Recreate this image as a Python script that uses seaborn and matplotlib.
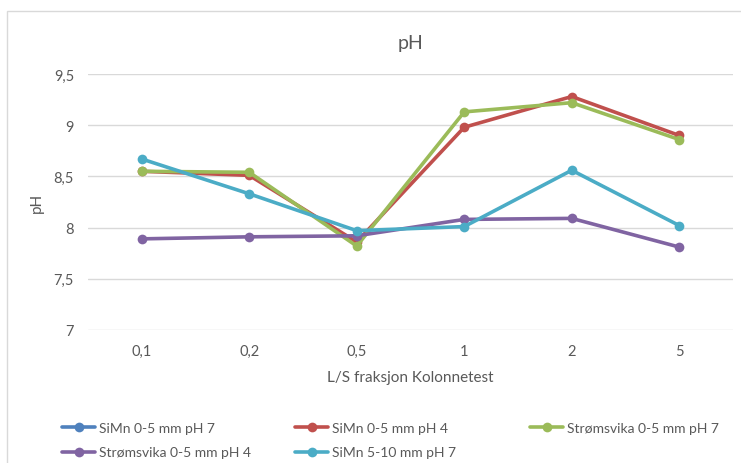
import numpy as np
import pandas as pd
import matplotlib
matplotlib.use("Agg")
import matplotlib.pyplot as plt
from matplotlib.lines import Line2D
from matplotlib.patches import Rectangle
import seaborn as sns

categories = ["0,1", "0,2", "0,5", "1", "2", "5"]
series_names = ["SiMn 0-5 mm pH 7", "SiMn 0-5 mm pH 4", "Strømsvika 0-5 mm pH 7",
                "Strømsvika 0-5 mm pH 4", "SiMn 5-10 mm pH 7"]
simn_05_ph7 = [np.nan] * 6
simn_05_ph4 = [8.55, 8.51, 7.86, 8.98, 9.28, 8.90]
strom_05_ph7 = [8.55, 8.54, 7.82, 9.13, 9.22, 8.86]
strom_05_ph4 = [7.89, 7.91, 7.92, 8.08, 8.09, 7.81]
simn_510_ph7 = [8.67, 8.33, 7.97, 8.01, 8.56, 8.02]
colors = ["#4F81BD", "#C0504D", "#9BBB59", "#8064A2", "#4BACC6"]

all_values = [simn_05_ph7, simn_05_ph4, strom_05_ph7, strom_05_ph4, simn_510_ph7]

sns.set_theme(style="white")
plt.rcParams["font.family"] = ["Lato", "DejaVu Sans"]
txt = "#595959"

fig = plt.figure(figsize=(7.41, 4.64), dpi=100)
ax = fig.add_axes([88 / 741, 1 - 331 / 464, (733 - 88) / 741, (331 - 75) / 464])

# frame around chart area
fig.patches.append(Rectangle((7 / 741, -0.1), 1.2, 1 - 12 / 464 + 0.1,
                             transform=fig.transFigure, fill=False,
                             edgecolor="#D9D9D9", linewidth=1.0))

for name, vals, col in zip(series_names, all_values, colors):
    df = pd.DataFrame({"LS": categories, "pH": vals}).dropna()
    if df.empty:
        continue
    sns.lineplot(data=df, x="LS", y="pH", ax=ax, color=col, linewidth=2.6,
                 marker="o", markersize=7, markeredgewidth=0, sort=False)

ax.set_xlim(-0.5, 5.5)
ax.set_ylim(7, 9.5)
ax.set_yticks([7, 7.5, 8, 8.5, 9, 9.5])
ax.set_yticklabels(["7", "7,5", "8", "8,5", "9", "9,5"])
ax.set_xticks(range(len(categories)))
ax.set_xticklabels(categories)
ax.yaxis.grid(True, color="#D9D9D9", linewidth=1.0)
ax.set_axisbelow(True)
for s in ax.spines.values():
    s.set_visible(False)
ax.tick_params(axis="both", length=0, colors=txt, labelsize=10.5)
ax.tick_params(axis="y", pad=10)
ax.tick_params(axis="x", pad=10)
ax.set_xlabel("L/S fraksjon Kolonnetest", color=txt, fontsize=11, labelpad=9)
ax.set_ylabel("pH", color=txt, fontsize=11, labelpad=7)
fig.text(0.5 * (88 + 733) / 741, 1 - 44 / 464, "pH", ha="center", va="center",
         color=txt, fontsize=14)

handles = [Line2D([], [], color=c, linewidth=2.6, marker="o", markersize=7,
                  markeredgewidth=0) for c in colors]
columns = [[0, 3], [1, 4], [2]]
col_x = [62, 295, 530]
for idxs, cx in zip(columns, col_x):
    leg = fig.legend([handles[i] for i in idxs], [series_names[i] for i in idxs],
                     loc="upper left", bbox_to_anchor=(cx / 741, 1 - 423 / 464),
                     frameon=False, fontsize=10, handlelength=2.4,
                     handletextpad=0.25, labelspacing=0.9,
                     borderpad=0, borderaxespad=0)
    for t in leg.get_texts():
        t.set_color(txt)

fig.savefig("out.png", dpi=100)
